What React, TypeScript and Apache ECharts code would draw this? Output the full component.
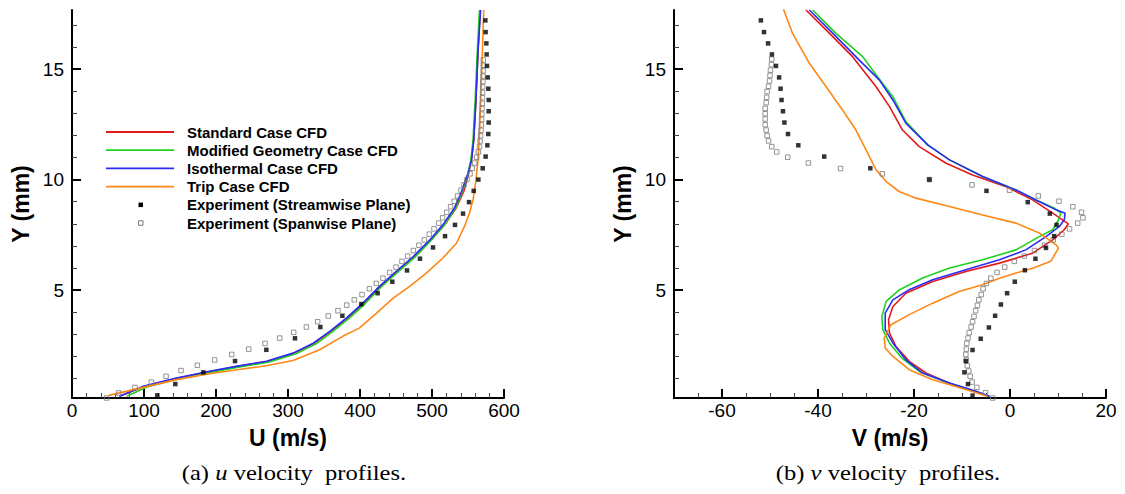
import React, { useEffect, useRef } from 'react';
import * as echarts from 'echarts';

// ---- Axis ticks ----
const Y_MAJOR = [5, 10, 15];
const Y_MINOR = [1, 2, 3, 4, 6, 7, 8, 9, 11, 12, 13, 14, 16, 17];
const V_MAJOR = [-60, -40, -20, 0, 20];
const V_MINOR = [-65, -55, -50, -45, -35, -30, -25, -15, -10, -5, 5, 10, 15];

// ---- Legend names ----
const NAMES = [
  'Standard Case CFD',
  'Modified Geometry Case CFD',
  'Isothermal Case CFD',
  'Trip Case CFD',
  'Experiment (Streamwise Plane)',
  'Experiment (Spanwise Plane)',
];
const COLORS = ['#e3191c', '#1fd01f', '#2b2bf5', '#ff8716'];

// ---- (a) u profiles: [U (m/s), Y (mm)] ----
const uStandard: [number, number][] = [
  [66, 0.2], [100, 0.64], [146, 1.01], [192, 1.32], [229, 1.54], [271, 1.77], [308, 2.14],
  [336, 2.59], [359, 3.12], [382, 3.72], [405, 4.4], [428, 5.15], [451, 5.82], [475, 6.5],
  [498, 7.25], [517, 7.93], [533, 8.68], [544, 9.45], [551, 10.3], [555, 10.95], [558, 11.8],
  [561, 13.6], [564, 15.86], [567, 17.67],
];
const uModified: [number, number][] = [
  [76, 0.2], [104, 0.62], [150, 1.0], [196, 1.3], [233, 1.52], [274, 1.75], [311, 2.12],
  [339, 2.57], [361, 3.1], [384, 3.7], [407, 4.38], [429, 5.13], [452, 5.8], [476, 6.48],
  [498, 7.22], [516, 7.9], [532, 8.66], [542, 9.43], [550, 10.28], [554, 10.9], [557, 11.8],
  [560, 13.6], [563, 15.86], [566, 17.67],
];
const uIsothermal: [number, number][] = [
  [66, 0.2], [99, 0.65], [145, 1.02], [191, 1.33], [228, 1.55], [270, 1.78], [307, 2.15],
  [335, 2.6], [358, 3.13], [381, 3.73], [404, 4.41], [427, 5.17], [450, 5.84], [474, 6.52],
  [497, 7.27], [515, 7.95], [531, 8.7], [541, 9.46], [550, 10.29], [555, 10.89], [558, 11.8],
  [561, 13.6], [564, 15.86], [567.5, 17.67],
];
const uTrip: [number, number][] = [
  [51, 0.24], [99, 0.6], [145, 0.95], [191, 1.22], [237, 1.43], [270, 1.58], [307, 1.82],
  [344, 2.3], [376, 2.91], [399, 3.28], [423, 3.96], [446, 4.64], [469, 5.17], [492, 5.77],
  [515, 6.45], [534, 7.12], [545, 7.88], [552, 8.48], [557, 9.08], [560.5, 9.83], [564, 10.89],
  [566, 12.09], [568.5, 14.35], [570.8, 16.6], [571.8, 17.67],
];
const uStreamwise: [number, number][] = [
  [118.5, 0.24], [143.5, 0.75], [182.4, 1.28], [226.4, 1.79], [269.9, 2.3], [309.7, 2.82],
  [344.9, 3.33], [375.5, 3.84], [401.9, 4.37], [424.5, 4.86], [444.9, 5.38], [465.3, 5.89],
  [483.3, 6.42], [501.4, 6.93], [518.1, 7.44], [531.9, 7.95], [543.1, 8.46], [551.4, 8.98],
  [557.9, 9.49], [564.4, 10.0], [570.4, 10.51], [574.5, 11.04], [576.9, 11.55], [578.2, 12.06],
  [578.7, 12.58], [578.7, 13.09], [578.7, 13.6], [578.2, 14.11], [577.3, 14.62], [576.4, 15.14],
  [575.9, 15.66], [575.5, 16.16], [574.5, 16.67], [574.1, 17.2], [573.6, 17.71],
];
const uSpanwise: [number, number][] = [
  [48.1, 0.12], [64.8, 0.35], [87.5, 0.6], [110.2, 0.84], [130.6, 1.1], [151.4, 1.36],
  [174.1, 1.6], [198.1, 1.84], [221.8, 2.09], [245.4, 2.33], [268.1, 2.59], [288.4, 2.83],
  [307.9, 3.09], [325.5, 3.33], [341.2, 3.57], [356.0, 3.83], [369.4, 4.07], [381.5, 4.32],
  [392.1, 4.56], [402.8, 4.8], [413.0, 5.06], [422.7, 5.3], [431.9, 5.54], [441.2, 5.8],
  [450.0, 6.04], [458.3, 6.3], [466.2, 6.54], [474.1, 6.79], [481.9, 7.03], [489.4, 7.27],
  [496.3, 7.53], [502.8, 7.77], [509.3, 8.03], [514.8, 8.27], [520.4, 8.52], [525.9, 8.77],
  [531.0, 9.02], [535.6, 9.26], [540.3, 9.52], [544.4, 9.76], [548.6, 10.0], [552.8, 10.26],
  [556.0, 10.51], [559.3, 10.75], [562.0, 11.01], [564.4, 11.25], [566.0, 11.49], [566.8, 11.74],
  [567.5, 11.98], [568.0, 12.23], [568.5, 12.47], [568.9, 12.72], [569.2, 12.96], [569.5, 13.21],
  [569.8, 13.45], [570.0, 13.7], [570.2, 13.94], [570.4, 14.19], [570.6, 14.43], [570.8, 14.68],
  [571.0, 14.92], [571.1, 15.17], [571.2, 15.41],
];

// ---- (b) v profiles: [V (m/s), Y (mm)] ----
const vStandard: [number, number][] = [
  [-42.5, 17.67], [-37.6, 16.61], [-32.8, 15.56], [-27.9, 14.2], [-25.1, 13.3], [-22.4, 12.24],
  [-18.9, 11.49], [-13.3, 10.74], [-7.8, 10.21], [-0.8, 9.68], [4.7, 9.08], [8.9, 8.48],
  [12.15, 8.0], [11.3, 7.73], [8.9, 7.27], [4.7, 6.67], [-2.2, 6.22], [-9.2, 5.84], [-16.1, 5.39],
  [-21.7, 4.86], [-24.4, 4.26], [-25.3, 3.66], [-25.1, 3.06], [-23.75, 2.45], [-21.0, 1.78],
  [-17.5, 1.25], [-11.9, 0.72], [-6.4, 0.35], [-4.3, 0.2],
];
const vModified: [number, number][] = [
  [-41.1, 17.67], [-36.25, 16.61], [-30.7, 15.56], [-27.6, 14.65], [-24.4, 13.75], [-21.7, 12.62],
  [-17.15, 11.57], [-12.6, 10.89], [-5.7, 10.14], [1.25, 9.53], [5.4, 9.08], [9.3, 8.7],
  [10.6, 8.48], [10.1, 8.18], [8.9, 7.73], [6.1, 7.42], [1.25, 6.82], [-5.7, 6.37],
  [-12.6, 6.0], [-18.2, 5.55], [-23.0, 5.02], [-25.8, 4.49], [-26.7, 3.81], [-26.5, 3.21],
  [-25.1, 2.6], [-22.4, 1.9], [-18.6, 1.28], [-12.8, 0.8], [-7.2, 0.42], [-4.3, 0.2],
];
const vIsothermal: [number, number][] = [
  [-41.8, 17.67], [-36.9, 16.61], [-31.4, 15.4], [-27.2, 14.5], [-24.4, 13.6], [-21.7, 12.55],
  [-17.15, 11.57], [-12.6, 10.89], [-5.7, 10.14], [1.25, 9.53], [5.4, 9.08], [9.6, 8.63],
  [11.5, 8.48], [11.3, 8.18], [10.3, 7.88], [7.5, 7.42], [3.3, 6.82], [-2.2, 6.37],
  [-9.2, 5.92], [-16.1, 5.47], [-21.0, 5.02], [-24.4, 4.56], [-26.0, 3.96], [-26.0, 3.21],
  [-24.4, 2.61], [-21.7, 1.85], [-18.2, 1.25], [-12.6, 0.8], [-7.1, 0.42], [-4.3, 0.2],
];
const vTrip: [number, number][] = [
  [-47.2, 17.71], [-45.3, 16.61], [-41.8, 15.26], [-38.3, 14.2], [-34.9, 13.15], [-32.1, 12.24],
  [-30.0, 11.34], [-27.9, 10.44], [-25.8, 9.91], [-23.1, 9.46], [-19.6, 9.16], [-12.6, 8.78],
  [-5.7, 8.4], [1.25, 8.03], [6.1, 7.58], [9.6, 7.05], [10.1, 6.9], [8.5, 6.3], [4.7, 5.99],
  [1.25, 5.77], [-2.2, 5.54], [-5.7, 5.24], [-10.6, 4.94], [-16.1, 4.41], [-21.0, 3.89],
  [-24.8, 3.43], [-26.2, 2.83], [-26.0, 2.38], [-24.4, 2.0], [-21.0, 1.4], [-16.1, 0.95],
  [-9.2, 0.5], [-4.7, 0.2],
];
const vStreamwise: [number, number][] = [
  [-52.2, 17.71], [-51.9, 17.2], [-51.25, 16.67], [-50.4, 16.16], [-49.6, 15.66], [-48.75, 15.14],
  [-48.1, 14.62], [-47.8, 14.11], [-47.6, 13.6], [-47.3, 13.09], [-47.0, 12.58], [-46.25, 12.06],
  [-44.1, 11.55], [-38.7, 11.04], [-29.1, 10.51], [-16.8, 10.0], [-4.9, 9.49], [3.7, 8.98],
  [8.3, 8.46], [9.7, 7.95], [9.2, 7.44], [7.5, 6.91], [5.3, 6.42], [3.1, 5.9], [1.0, 5.38],
  [-0.6, 4.86], [-1.9, 4.35], [-3.1, 3.84], [-4.4, 3.31], [-6.1, 2.8], [-7.8, 2.29],
  [-9.2, 1.79], [-9.5, 1.28], [-8.75, 0.75], [-7.8, 0.23],
];
const vSpanwise: [number, number][] = [
  [-3.6, 0.12], [-5.1, 0.36], [-6.9, 0.6], [-7.9, 0.84], [-8.3, 1.1], [-8.6, 1.34], [-8.9, 1.58],
  [-9.1, 1.84], [-9.2, 2.09], [-9.1, 2.33], [-9.0, 2.59], [-8.75, 2.83], [-8.5, 3.07],
  [-8.1, 3.33], [-7.8, 3.57], [-7.5, 3.81], [-7.15, 4.07], [-6.8, 4.31], [-6.5, 4.56],
  [-6.0, 4.8], [-5.6, 5.06], [-4.9, 5.3], [-4.0, 5.54], [-2.7, 5.8], [-1.1, 6.04], [0.9, 6.3],
  [3.0, 6.54], [5.1, 6.79], [7.2, 7.03], [9.0, 7.27], [10.8, 7.53], [12.4, 7.77], [14.1, 8.03],
  [15.2, 8.27], [14.9, 8.52], [13.1, 8.77], [10.2, 9.02], [5.9, 9.26], [-0.1, 9.52],
  [-7.9, 9.76], [-16.8, 10.0], [-26.6, 10.26], [-35.3, 10.5], [-42.0, 10.75], [-46.3, 11.01],
  [-48.6, 11.25], [-49.65, 11.49], [-50.3, 11.75], [-50.6, 11.99], [-50.8, 12.24], [-51.0, 12.48],
  [-51.0, 12.74], [-51.0, 12.98], [-51.0, 13.22], [-50.8, 13.48], [-50.7, 13.72], [-50.6, 13.98],
  [-50.3, 14.22], [-50.1, 14.46], [-50.0, 14.71], [-49.9, 14.95], [-49.7, 15.2], [-49.65, 15.45],
];

const SANS = '"Liberation Sans", Arial, Helvetica, sans-serif';
const SERIF = '"Liberation Serif", "Times New Roman", serif';
const Y_MIN = 0.12;
const Y_MAX = 17.67;

const tickLabel = { fontSize: 19, color: '#000', fontFamily: SANS };
const axisName = { fontSize: 23, fontWeight: 'bold' as const, color: '#000', fontFamily: SANS };
const axisLine = { show: true, onZero: false, lineStyle: { color: '#000', width: 2 } };
const majorTick = { show: true, inside: true, length: 9, lineStyle: { color: '#000', width: 2 } };
const minorTickStyle = { color: '#444', width: 1 };

function yAxes(gridIndex: number) {
  return [
    {
      type: 'value', gridIndex, position: 'left', min: Y_MIN, max: Y_MAX,
      name: 'Y (mm)', nameLocation: 'middle', nameGap: 40, nameTextStyle: axisName,
      axisLine,
      axisTick: { ...majorTick, customValues: Y_MAJOR },
      axisLabel: { ...tickLabel, margin: 8, customValues: Y_MAJOR },
      splitLine: { show: false },
    },
    {
      type: 'value', gridIndex, position: 'left', offset: 0, min: Y_MIN, max: Y_MAX,
      axisLine: { show: false, onZero: false },
      axisTick: { show: true, inside: true, length: 5, customValues: Y_MINOR, lineStyle: minorTickStyle },
      axisLabel: { show: false },
      splitLine: { show: false },
    },
  ];
}

function lineSeries(name: string, data: [number, number][], color: string, xi: number, yi: number) {
  return {
    type: 'line', name, data, xAxisIndex: xi, yAxisIndex: yi,
    showSymbol: false, symbol: 'none', lineStyle: { color, width: 1.6 },
    emphasis: { disabled: true },
  };
}

function streamwise(data: [number, number][], xi: number, yi: number) {
  return {
    type: 'scatter', name: NAMES[4], data, xAxisIndex: xi, yAxisIndex: yi,
    symbol: 'rect', symbolSize: 4.5, itemStyle: { color: '#000' }, z: 5,
  };
}

function spanwise(data: [number, number][], xi: number, yi: number) {
  return {
    type: 'scatter', name: NAMES[5], data, xAxisIndex: xi, yAxisIndex: yi,
    symbol: 'rect', symbolSize: 4.5,
    itemStyle: { color: 'rgba(255,255,255,0)', borderColor: '#7a7a7a', borderWidth: 1 }, z: 4,
  };
}

// Legend drawn inside the u-profile panel
function legendGraphics() {
  const els: any[] = [];
  const x0 = 106, x1 = 174, tx = 187, y0 = 132, dy = 18.2;
  NAMES.forEach((n, i) => {
    const y = y0 + dy * i;
    if (i < 4) {
      els.push({ type: 'line', shape: { x1: x0, y1: y, x2: x1, y2: y }, style: { stroke: COLORS[i], lineWidth: 1.8 } });
    } else if (i === 4) {
      els.push({ type: 'rect', shape: { x: 138.5, y: y - 2.2, width: 4.5, height: 4.5 }, style: { fill: '#000' } });
    } else {
      els.push({ type: 'rect', shape: { x: 138.5, y: y - 2.2, width: 4.5, height: 4.5 }, style: { fill: 'none', stroke: '#7a7a7a', lineWidth: 1 } });
    }
    els.push({
      type: 'text', x: tx, y,
      style: { text: n, fontSize: 15, fontWeight: 'bold', fontFamily: SANS, fill: '#000', verticalAlign: 'middle' },
    });
  });
  return els;
}

function caption(text: string, cx: number) {
  return {
    type: 'text', x: cx, y: 473, scaleX: 1.17,
    style: {
      text, align: 'center', verticalAlign: 'middle', fontSize: 21, fontFamily: SERIF, fill: '#000',
      rich: { i: { fontStyle: 'italic', fontSize: 21, fontFamily: SERIF, fill: '#000' } },
    },
  };
}

export default function App() {
  const ref = useRef<HTMLDivElement>(null);

  useEffect(() => {
    document.body.style.margin = '0';
    if (!ref.current) return;
    const chart = echarts.init(ref.current, null, { renderer: 'svg' });
    chart.setOption({
      animation: false,
      backgroundColor: '#fff',
      grid: [
        { left: 72, top: 10, width: 432, height: 388 },
        { left: 674, top: 10, width: 432, height: 388 },
      ],
      xAxis: [
        {
          type: 'value', gridIndex: 0, min: 0, max: 600, interval: 100,
          name: 'U (m/s)', nameLocation: 'middle', nameGap: 28, nameTextStyle: axisName,
          axisLine,
          axisTick: majorTick,
          minorTick: { show: true, splitNumber: 5, length: 5, lineStyle: minorTickStyle },
          axisLabel: { ...tickLabel, margin: 3 },
          splitLine: { show: false },
        },
        {
          type: 'value', gridIndex: 1, position: 'bottom', min: -70, max: 20,
          name: 'V (m/s)', nameLocation: 'middle', nameGap: 28, nameTextStyle: axisName,
          axisLine,
          axisTick: { ...majorTick, customValues: V_MAJOR },
          axisLabel: { ...tickLabel, margin: 3, customValues: V_MAJOR },
          splitLine: { show: false },
        },
        {
          type: 'value', gridIndex: 1, position: 'bottom', offset: 0, min: -70, max: 20,
          axisLine: { show: false, onZero: false },
          axisTick: { show: true, inside: true, length: 5, customValues: V_MINOR, lineStyle: minorTickStyle },
          axisLabel: { show: false },
          splitLine: { show: false },
        },
      ],
      yAxis: [...yAxes(0), ...yAxes(1)],
      series: [
        lineSeries(NAMES[0], uStandard, COLORS[0], 0, 0),
        lineSeries(NAMES[1], uModified, COLORS[1], 0, 0),
        lineSeries(NAMES[2], uIsothermal, COLORS[2], 0, 0),
        lineSeries(NAMES[3], uTrip, COLORS[3], 0, 0),
        streamwise(uStreamwise, 0, 0),
        spanwise(uSpanwise, 0, 0),
        lineSeries(NAMES[0], vStandard, COLORS[0], 1, 2),
        lineSeries(NAMES[1], vModified, COLORS[1], 1, 2),
        lineSeries(NAMES[2], vIsothermal, COLORS[2], 1, 2),
        lineSeries(NAMES[3], vTrip, COLORS[3], 1, 2),
        streamwise(vStreamwise, 1, 2),
        spanwise(vSpanwise, 1, 2),
      ],
      graphic: [
        ...legendGraphics(),
        caption('(a) {i|u} velocity  profiles.', 294),
        caption('(b) {i|v} velocity  profiles.', 888),
      ],
    });
    return () => chart.dispose();
  }, []);

  return <div ref={ref} style={{ width: 1125, height: 494 }} />;
}
